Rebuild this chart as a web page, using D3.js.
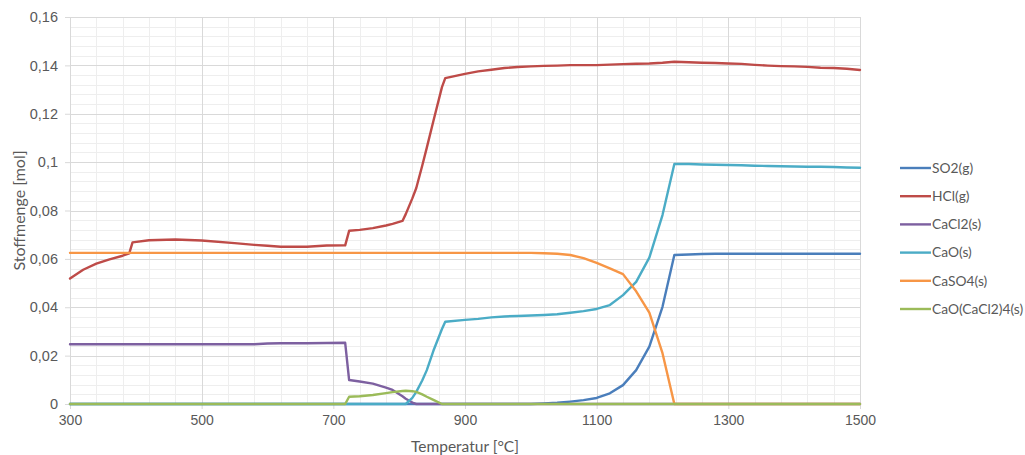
<!DOCTYPE html>
<html>
<head>
<meta charset="utf-8">
<script src="https://cdn.jsdelivr.net/npm/d3@7"></script>
<style>
  html, body { margin: 0; padding: 0; background: #fff; }
  svg { display: block; font-family: Lato, "Open Sans", sans-serif; }
</style>
</head>
<body>
<div id="chart"></div>
<script>
// Temperature grid [°C]
const temps = [300, 320, 340, 360, 380, 390, 395, 420, 460, 500, 550, 580, 600, 620, 660, 690,
  718, 724, 740, 760, 780, 790, 805, 810, 820, 826, 835, 842, 852, 865, 870,
  900, 920, 940, 960, 980, 1000, 1020, 1040, 1060, 1080, 1100, 1120, 1140, 1160, 1180, 1200,
  1218, 1240, 1260, 1280, 1300, 1320, 1340, 1360, 1380, 1400, 1420, 1440, 1460, 1480, 1500];

// Amounts of substance [mol] at each temperature
const so2 = [0, 0, 0, 0, 0, 0, 0, 0, 0, 0, 0, 0, 0, 0, 0, 0,
  0, 0, 0, 0, 0, 0, 0, 0, 0, 0, 0, 0, 0, 0, 0,
  0, 0, 0, 0, 0, 0, 0.0002, 0.0005, 0.0010, 0.0016, 0.0025, 0.0044, 0.0078, 0.0140, 0.0237, 0.0402,
  0.0616, 0.0618, 0.0620, 0.0621, 0.0621, 0.0621, 0.0621, 0.0621, 0.0621, 0.0621, 0.0621, 0.0621, 0.0621, 0.0621, 0.0621];

const hcl = [0.0519, 0.0555, 0.0580, 0.0598, 0.0613, 0.0623, 0.0668, 0.0677, 0.0680, 0.0676, 0.0665, 0.0658, 0.0654, 0.0650, 0.0650, 0.0655,
  0.0656, 0.0716, 0.0720, 0.0727, 0.0738, 0.0745, 0.0757, 0.0785, 0.0850, 0.0893, 0.0985, 0.1060, 0.1170, 0.1310, 0.1347,
  0.1365, 0.1375, 0.1382, 0.1389, 0.1393, 0.1396, 0.1398, 0.1399, 0.1401, 0.1401, 0.1401, 0.1403, 0.1405, 0.1407, 0.1408, 0.1411,
  0.1415, 0.1413, 0.1411, 0.1410, 0.1408, 0.1406, 0.1402, 0.1399, 0.1397, 0.1396, 0.1394, 0.1390, 0.1389, 0.1386, 0.1381];

const cacl2 = [0.0247, 0.0247, 0.0247, 0.0247, 0.0247, 0.0247, 0.0247, 0.0247, 0.0247, 0.0247, 0.0247, 0.0247, 0.0250, 0.0251, 0.0251, 0.0252,
  0.0253, 0.0099, 0.0093, 0.0084, 0.0068, 0.0058, 0.0032, 0.0022, 0.0006, 0, 0, 0, 0, 0, 0,
  0, 0, 0, 0, 0, 0, 0, 0, 0, 0, 0, 0, 0, 0, 0, 0,
  0, 0, 0, 0, 0, 0, 0, 0, 0, 0, 0, 0, 0, 0, 0];

const cao = [0, 0, 0, 0, 0, 0, 0, 0, 0, 0, 0, 0, 0, 0, 0, 0,
  0, 0, 0, 0, 0, 0, 0, 0, 0.0025, 0.0050, 0.0097, 0.0140, 0.0220, 0.0310, 0.0340,
  0.0348, 0.0352, 0.0358, 0.0362, 0.0364, 0.0366, 0.0368, 0.0371, 0.0377, 0.0384, 0.0393, 0.0409, 0.0450, 0.0505, 0.0605, 0.0781,
  0.0992, 0.0992, 0.0990, 0.0989, 0.0988, 0.0987, 0.0985, 0.0984, 0.0983, 0.0982, 0.0981, 0.0981, 0.0980, 0.0978, 0.0977];

const caso4 = [0.0625, 0.0625, 0.0625, 0.0625, 0.0625, 0.0625, 0.0625, 0.0625, 0.0625, 0.0625, 0.0625, 0.0625, 0.0625, 0.0625, 0.0625, 0.0625,
  0.0625, 0.0625, 0.0625, 0.0625, 0.0625, 0.0625, 0.0625, 0.0625, 0.0625, 0.0625, 0.0625, 0.0625, 0.0625, 0.0625, 0.0625,
  0.0625, 0.0625, 0.0625, 0.0625, 0.0625, 0.0625, 0.0623, 0.0621, 0.0616, 0.0603, 0.0583, 0.0561, 0.0537, 0.0466, 0.0378, 0.0210,
  0, 0, 0, 0, 0, 0, 0, 0, 0, 0, 0, 0, 0, 0, 0];

const caoCacl2 = [0, 0, 0, 0, 0, 0, 0, 0, 0, 0, 0, 0, 0, 0, 0, 0,
  0, 0.0030, 0.0032, 0.0037, 0.0045, 0.0049, 0.0054, 0.0055, 0.0053, 0.0050, 0.0040, 0.0030, 0.0017, 0, 0,
  0, 0, 0, 0, 0, 0, 0, 0, 0, 0, 0, 0, 0, 0, 0, 0,
  0, 0, 0, 0, 0, 0, 0, 0, 0, 0, 0, 0, 0, 0, 0];

const seriesNames = ["SO2(g)", "HCl(g)", "CaCl2(s)", "CaO(s)", "CaSO4(s)", "CaO(CaCl2)4(s)"];
const seriesValues = [so2, hcl, cacl2, cao, caso4, caoCacl2];
const seriesColors = ["#4a7ebb", "#be4b48", "#7d60a0", "#4bacc6", "#f79646", "#9bbb59"];

const xTicks = [300, 500, 700, 900, 1100, 1300, 1500];
const yTicks = [0, 0.02, 0.04, 0.06, 0.08, 0.1, 0.12, 0.14, 0.16];
const xTitle = "Temperatur [°C]";
const yTitle = "Stoffmenge [mol]";

const W = 1025, H = 455;
const plot = { left: 70, right: 860, top: 17, bottom: 404 };

const x = d3.scaleLinear().domain([300, 1500]).range([plot.left, plot.right]);
const y = d3.scaleLinear().domain([0, 0.16]).range([plot.bottom, plot.top]);

const svg = d3.select("#chart").append("svg").attr("width", W).attr("height", H);

// Minor gridlines
const xMinor = d3.range(300, 1500.1, 40);
const yMinor = d3.range(0, 0.1601, 0.004);
const grid = svg.append("g").attr("shape-rendering", "crispEdges");
grid.selectAll("line.xm").data(xMinor).join("line")
  .attr("x1", d => Math.round(x(d)) + 0.5).attr("x2", d => Math.round(x(d)) + 0.5)
  .attr("y1", plot.top).attr("y2", plot.bottom)
  .attr("stroke", "#eeeeee");
grid.selectAll("line.ym").data(yMinor).join("line")
  .attr("x1", plot.left).attr("x2", plot.right)
  .attr("y1", d => Math.round(y(d)) + 0.5).attr("y2", d => Math.round(y(d)) + 0.5)
  .attr("stroke", "#eeeeee");

// Major gridlines
grid.selectAll("line.xM").data(xTicks).join("line")
  .attr("x1", d => Math.round(x(d)) + 0.5).attr("x2", d => Math.round(x(d)) + 0.5)
  .attr("y1", plot.top).attr("y2", plot.bottom)
  .attr("stroke", "#d9d9d9");
grid.selectAll("line.yM").data(yTicks).join("line")
  .attr("x1", plot.left).attr("x2", plot.right)
  .attr("y1", d => Math.round(y(d)) + 0.5).attr("y2", d => Math.round(y(d)) + 0.5)
  .attr("stroke", "#d9d9d9");

const fmt = v => String(+v.toFixed(2)).replace(".", ",");

// Axes
const xAxis = svg.append("g")
  .attr("transform", `translate(0,${plot.bottom})`)
  .call(d3.axisBottom(x).tickValues(xTicks).tickSize(5).tickPadding(6).tickFormat(d => d));
const yAxis = svg.append("g")
  .attr("transform", `translate(${plot.left},0)`)
  .call(d3.axisLeft(y).tickValues(yTicks).tickSize(5).tickPadding(7).tickFormat(fmt));
[xAxis, yAxis].forEach(a => {
  a.select(".domain").attr("stroke", "#d9d9d9");
  a.selectAll(".tick line").attr("stroke", "#d9d9d9");
  a.selectAll(".tick text").attr("fill", "#595959").style("font-size", "14px");
});
yAxis.selectAll(".tick text").style("font-size", "14.5px");

// Series lines
const line = d3.line()
  .x((d, i) => x(temps[i]))
  .y(d => y(d));
svg.append("g").selectAll("path").data(seriesValues).join("path")
  .attr("d", d => line(d))
  .attr("fill", "none")
  .attr("stroke", (d, i) => seriesColors[i])
  .attr("stroke-width", 2.4)
  .attr("stroke-linejoin", "round")
  .attr("stroke-linecap", "round");

// Axis titles
svg.append("text")
  .attr("x", 465).attr("y", 452)
  .attr("text-anchor", "middle")
  .attr("fill", "#595959").style("font-size", "15.5px")
  .text(xTitle);
svg.append("text")
  .attr("transform", `translate(25,${(plot.top + plot.bottom) / 2}) rotate(-90)`)
  .attr("text-anchor", "middle")
  .attr("fill", "#595959").style("font-size", "16px")
  .text(yTitle);

// Legend
const legend = svg.append("g").attr("transform", "translate(900,168)");
const item = legend.selectAll("g").data(seriesNames).join("g")
  .attr("transform", (d, i) => `translate(0,${i * 28.2})`);
item.append("line")
  .attr("x1", 0).attr("x2", 31).attr("y1", 0).attr("y2", 0)
  .attr("stroke", (d, i) => seriesColors[i])
  .attr("stroke-width", 2.4);
item.append("text")
  .attr("x", 32).attr("y", 0).attr("dy", "0.35em")
  .attr("fill", "#595959").style("font-size", "13.8px")
  .text(d => d);
</script>
</body>
</html>
